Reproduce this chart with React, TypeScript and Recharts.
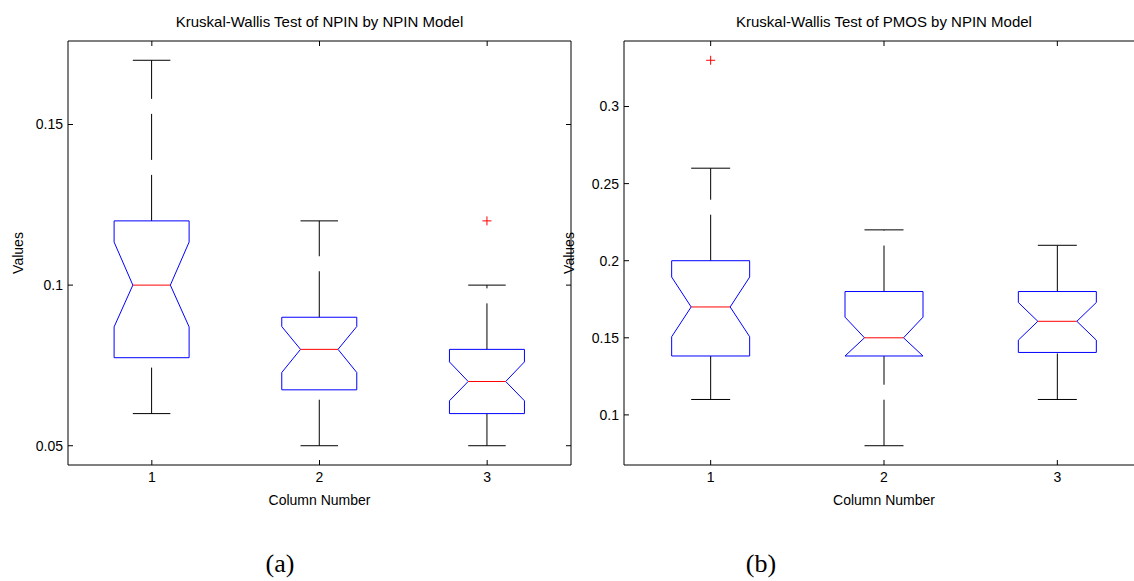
import { Bar, ComposedChart, Label, XAxis, YAxis } from "recharts"

const columns = ["1", "2", "3"]

// (a) Kruskal-Wallis Test of NPIN by NPIN Model
const npinLow = [0.06, 0.05, 0.05]
const npinQ1 = [0.0774, 0.0674, 0.06]
const npinNotchLow = [0.087, 0.0728, 0.064]
const npinMedian = [0.1, 0.08, 0.07]
const npinNotchHigh = [0.1134, 0.0871, 0.0761]
const npinQ3 = [0.12, 0.09, 0.08]
const npinHigh = [0.17, 0.12, 0.1]
const npinOutliers: number[][] = [[], [], [0.12]]
const npinTicks = [0.05, 0.1, 0.15]
const npinDomain = [0.044, 0.176]

// (b) Kruskal-Wallis Test of PMOS by NPIN Model
const pmosLow = [0.11, 0.08, 0.11]
const pmosQ1 = [0.1382, 0.1382, 0.1405]
const pmosNotchLow = [0.1507, 0.1382, 0.1485]
const pmosMedian = [0.17, 0.15, 0.1607]
const pmosNotchHigh = [0.1894, 0.1634, 0.1729]
const pmosQ3 = [0.2, 0.18, 0.18]
const pmosHigh = [0.26, 0.22, 0.21]
const pmosOutliers: number[][] = [[0.33], [], []]
const pmosTicks = [0.1, 0.15, 0.2, 0.25, 0.3]
const pmosDomain = [0.0675, 0.3425]

type Row = {
  name: string
  low: number
  q1: number
  notchLow: number
  median: number
  notchHigh: number
  q3: number
  high: number
  outliers: number[]
}

function buildRows(
  low: number[],
  q1: number[],
  notchLow: number[],
  median: number[],
  notchHigh: number[],
  q3: number[],
  high: number[],
  outliers: number[][]
): Row[] {
  return columns.map((name, i) => ({
    name,
    low: low[i],
    q1: q1[i],
    notchLow: notchLow[i],
    median: median[i],
    notchHigh: notchHigh[i],
    q3: q3[i],
    high: high[i],
    outliers: outliers[i],
  }))
}

const npinRows = buildRows(npinLow, npinQ1, npinNotchLow, npinMedian, npinNotchHigh, npinQ3, npinHigh, npinOutliers)
const pmosRows = buildRows(pmosLow, pmosQ1, pmosNotchLow, pmosMedian, pmosNotchHigh, pmosQ3, pmosHigh, pmosOutliers)

const font = "'Liberation Sans', Arial, Helvetica, sans-serif"
const range = (d: Row) => [d.low, d.high]

function NotchedBox(props: any) {
  const { x, y, width, height, payload } = props
  const p = payload as Row
  const top = Math.min(y, y + height)
  const bottom = Math.max(y, y + height)
  // the bar spans low..high, so any value maps linearly inside it
  const toY = (v: number) => bottom - ((v - p.low) / (p.high - p.low)) * (bottom - top)
  const cx = x + width / 2
  const left = x
  const right = x + width
  const inL = x + width / 4
  const inR = x + (width * 3) / 4
  const outline: [number, number][] = [
    [left, p.q1],
    [left, p.notchLow],
    [inL, p.median],
    [left, p.notchHigh],
    [left, p.q3],
    [right, p.q3],
    [right, p.notchHigh],
    [inR, p.median],
    [right, p.notchLow],
    [right, p.q1],
  ]
  const points = outline.map(([px, v]) => `${px},${toY(v)}`).join(" ")
  return (
    <g>
      <line x1={cx} y1={toY(p.low)} x2={cx} y2={toY(p.q1)} stroke="#000" strokeDasharray="46 15" />
      <line x1={cx} y1={toY(p.q3)} x2={cx} y2={toY(p.high)} stroke="#000" strokeDasharray="46 15" />
      <line x1={inL} y1={toY(p.low)} x2={inR} y2={toY(p.low)} stroke="#000" />
      <line x1={inL} y1={toY(p.high)} x2={inR} y2={toY(p.high)} stroke="#000" />
      <polygon points={points} fill="none" stroke="#0000ff" />
      <line x1={inL} y1={toY(p.median)} x2={inR} y2={toY(p.median)} stroke="#ff0000" />
      {p.outliers.map((v, i) => (
        <g key={i} stroke="#ff0000">
          <line x1={cx - 4.5} y1={toY(v)} x2={cx + 4.5} y2={toY(v)} />
          <line x1={cx} y1={toY(v) - 4.5} x2={cx} y2={toY(v) + 4.5} />
        </g>
      ))}
    </g>
  )
}

type PanelProps = {
  rows: Row[]
  domain: number[]
  ticks: number[]
  title: string
  left: number
  width: number
  yAxisWidth: number
  marginRight: number
  labelOffset: number
  rightFrame: boolean
}

function Panel({ rows, domain, ticks, title, left, width, yAxisWidth, marginRight, labelOffset, rightFrame }: PanelProps) {
  const tickStyle = { fill: "#000", fontSize: 14, fontFamily: font }
  return (
    <div style={{ position: "absolute", left, top: 0 }}>
      <ComposedChart
        width={width}
        height={520}
        data={rows}
        margin={{ top: 40, right: rightFrame ? marginRight - 1 : marginRight, bottom: 0, left: 0 }}
        barCategoryGap="27.5%"
      >
        <XAxis
          dataKey="name"
          height={55}
          interval={0}
          tickSize={-5}
          tickMargin={12}
          axisLine={{ stroke: "#000" }}
          tickLine={{ stroke: "#000" }}
          tick={tickStyle}
        >
          <Label value="Column Number" position="insideBottom" offset={15} fill="#000" fontSize={14} fontFamily={font} />
        </XAxis>
        <XAxis
          xAxisId="top"
          dataKey="name"
          orientation="top"
          height={1}
          interval={0}
          tickSize={-5}
          tickFormatter={() => ""}
          axisLine={{ stroke: "#000" }}
          tickLine={{ stroke: "#000" }}
        >
          <Label value={title} position="top" offset={13} fill="#000" fontSize={15} fontFamily={font} />
        </XAxis>
        <YAxis
          type="number"
          width={yAxisWidth}
          domain={domain}
          ticks={ticks}
          allowDataOverflow
          tickSize={-5}
          tickMargin={10}
          axisLine={{ stroke: "#000" }}
          tickLine={{ stroke: "#000" }}
          tick={tickStyle}
        >
          <Label
            value="Values"
            angle={-90}
            position="insideLeft"
            offset={labelOffset}
            fill="#000"
            fontSize={14}
            fontFamily={font}
            style={{ textAnchor: "middle" }}
          />
        </YAxis>
        <YAxis
          yAxisId="r"
          type="number"
          orientation="right"
          width={1}
          hide={!rightFrame}
          domain={domain}
          ticks={ticks}
          allowDataOverflow
          tickSize={-5}
          tickFormatter={() => ""}
          axisLine={{ stroke: "#000" }}
          tickLine={{ stroke: "#000" }}
        />
        <Bar dataKey={range} shape={NotchedBox} isAnimationActive={false} />
        {/* empty series so the top and right frame axes get drawn */}
        <Bar xAxisId="top" yAxisId="r" dataKey={range} shape={() => <g />} isAnimationActive={false} />
      </ComposedChart>
    </div>
  )
}

const captionStyle = {
  position: "absolute" as const,
  top: 551,
  width: 100,
  textAlign: "center" as const,
  fontFamily: "'Liberation Serif', 'Times New Roman', serif",
  fontSize: 26,
  lineHeight: "26px",
  color: "#000",
}

export default function App() {
  return (
    <div
      style={{
        position: "absolute",
        left: 0,
        top: 0,
        width: 1134,
        height: 581,
        overflow: "hidden",
        background: "#fff",
        fontFamily: font,
      }}
    >
      <Panel
        rows={npinRows}
        domain={npinDomain}
        ticks={npinTicks}
        title="Kruskal-Wallis Test of NPIN by NPIN Model"
        left={0}
        width={600}
        yAxisWidth={68}
        marginRight={29}
        labelOffset={18}
        rightFrame
      />
      <Panel
        rows={pmosRows}
        domain={pmosDomain}
        ticks={pmosTicks}
        title="Kruskal-Wallis Test of PMOS by NPIN Model"
        left={540}
        width={610}
        yAxisWidth={84}
        marginRight={6}
        labelOffset={29}
        rightFrame={false}
      />
      <div style={{ ...captionStyle, left: 230 }}>(a)</div>
      <div style={{ ...captionStyle, left: 711 }}>(b)</div>
    </div>
  )
}
